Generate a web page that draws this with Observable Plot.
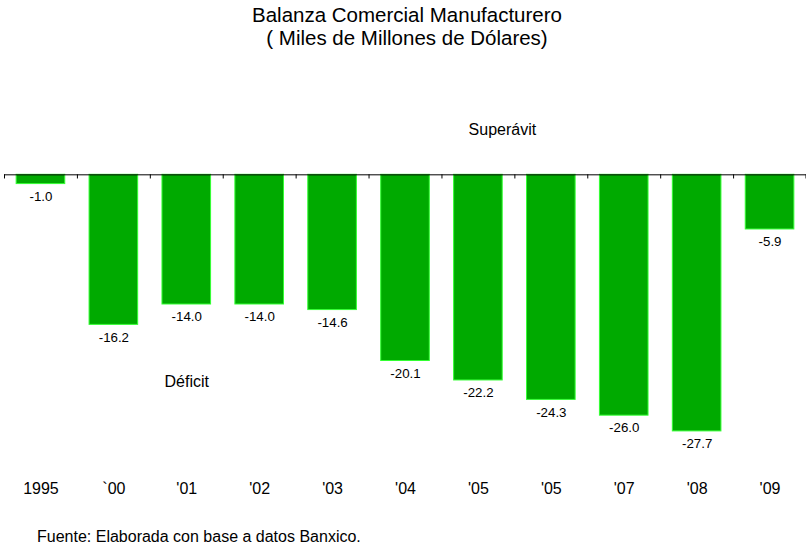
<!DOCTYPE html>
<html>
<head>
<meta charset="utf-8">
<script src="https://cdn.jsdelivr.net/npm/d3@7"></script>
<script src="https://cdn.jsdelivr.net/npm/@observablehq/plot@0.6"></script>
<style>
  body { margin: 0; background: #fff; font-family: "Liberation Sans", Arial, sans-serif; }
  #title { height: 50px; box-sizing: border-box; padding-top: 3px; text-align: center; font-size: 20.5px; line-height: 23px; color: #000; padding-left: 8px; }
  #caption { margin-top: 7px; padding-left: 37px; font-size: 16px; line-height: 20px; color: #000; }
  svg { display: block; }
</style>
</head>
<body>
<div id="title">Balanza Comercial Manufacturero<br>( Miles de Millones de Dólares)</div>
<div id="chart"></div>
<div id="caption">Fuente: Elaborada con base a datos Banxico.</div>
<script>
const categories = ["1995", "`00", "'01", "'02", "'03", "'04", "'05", "'05", "'07", "'08", "'09"];
const values = [-1.0, -16.2, -14.0, -14.0, -14.6, -20.1, -22.2, -24.3, -26.0, -27.7, -5.9];
const annotations = ["Superávit", "Déficit"];

const data = categories.map((c, i) => ({i, label: c, value: values[i]}));
const W = 806, ML = 4, MR = 0;
const step = (W - ML - MR) / categories.length;

const chart = Plot.plot({
  width: W,
  height: 470,
  marginLeft: ML,
  marginRight: MR,
  marginTop: 78,
  marginBottom: 40,
  style: {fontFamily: "'Liberation Sans', Arial, sans-serif", color: "#000", background: "#fff"},
  x: {type: "band", domain: d3.range(categories.length), paddingInner: 1/3, paddingOuter: 1/6, round: false, axis: null, label: null},
  y: {domain: [-33, 5], axis: null},
  marks: [
    Plot.barY(data, {x: "i", y: "value", fill: "#00AA00", stroke: "#33FF33", strokeWidth: 1}),
    Plot.ruleY([0], {stroke: "#000", strokeWidth: 1}),
    Plot.ruleX(data, {x: "i", y1: 0, y2: -0.45, dx: -step / 2, stroke: "#000"}),
    Plot.ruleX(data.slice(-1), {x: "i", y1: 0, y2: -0.45, dx: step / 2 - 0.5, stroke: "#000"}),
    Plot.text(data, {x: "i", y: "value", text: d => d.value.toFixed(1), dy: 12.5, fontSize: 13.3, fill: "#000"}),
    Plot.axisX({tickSize: 0, tickPadding: 2, tickFormat: i => categories[i], fontSize: 16, anchor: "bottom", label: null}),
    Plot.text([annotations[0]], {x: () => 6, y: () => 4.8, dx: 24, fontSize: 16, fill: "#000"}),
    Plot.text([annotations[1]], {x: () => 2, y: () => -22.4, fontSize: 16, fill: "#000"})
  ]
});
document.getElementById("chart").appendChild(chart);
</script>
</body>
</html>
